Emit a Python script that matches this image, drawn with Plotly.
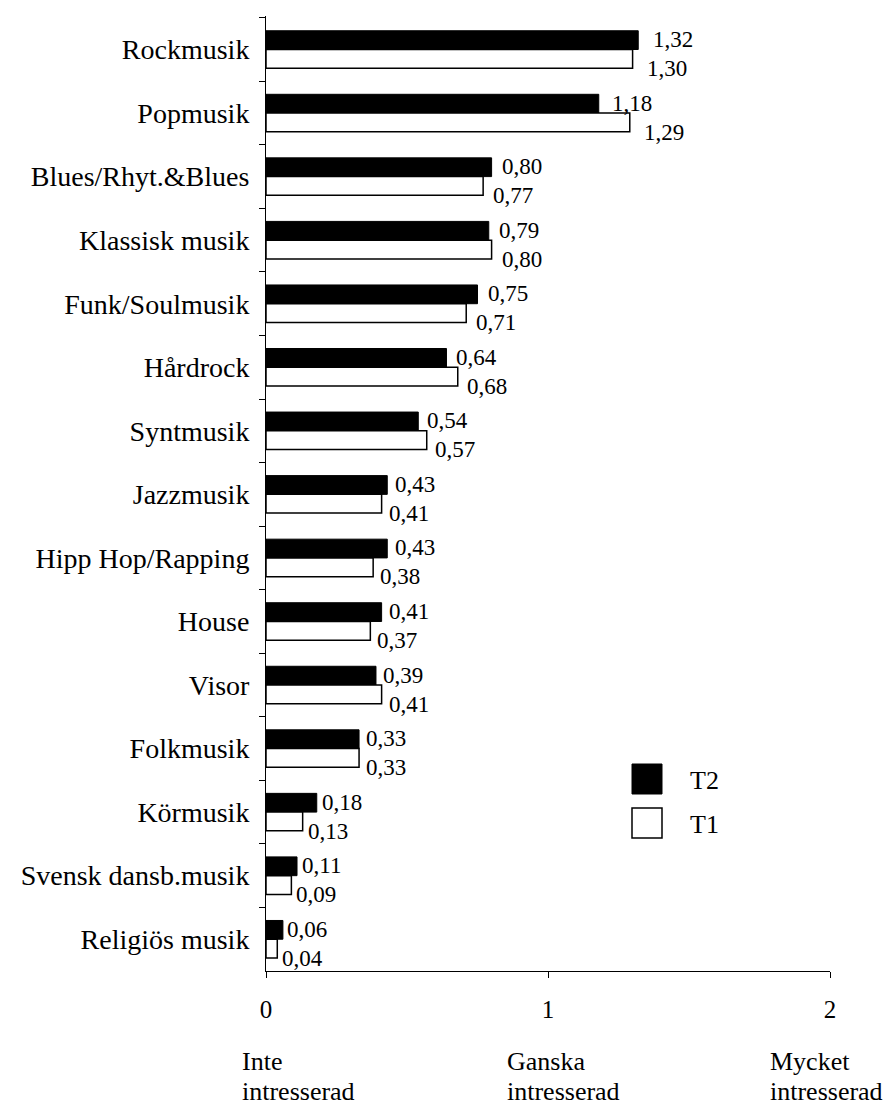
import plotly.graph_objects as go

categories = ["Rockmusik", "Popmusik", "Blues/Rhyt.&Blues", "Klassisk musik",
              "Funk/Soulmusik", "Hårdrock", "Syntmusik", "Jazzmusik",
              "Hipp Hop/Rapping", "House", "Visor", "Folkmusik", "Körmusik",
              "Svensk dansb.musik", "Religiös musik"]
t2 = [1.32, 1.18, 0.80, 0.79, 0.75, 0.64, 0.54, 0.43, 0.43, 0.41, 0.39, 0.33, 0.18, 0.11, 0.06]
t1 = [1.30, 1.29, 0.77, 0.80, 0.71, 0.68, 0.57, 0.41, 0.38, 0.37, 0.41, 0.33, 0.13, 0.09, 0.04]
x_ticks = [0, 1, 2]
scale_top = ["Inte", "Ganska", "Mycket"]
scale_bottom = ["intresserad", "intresserad", "intresserad"]
series_names = ["T2", "T1"]

FONT = "Liberation Serif"

fig = go.Figure()
fig.add_trace(go.Bar(name=series_names[0], y=categories, x=t2, orientation="h",
                     marker=dict(color="black", line=dict(color="black", width=1))))
fig.add_trace(go.Bar(name=series_names[1], y=categories, x=t1, orientation="h",
                     marker=dict(color="white", line=dict(color="black", width=1.5))))

def fmt(v):
    return f"{v:.2f}".replace(".", ",")

annotations = []
for cat, a, b in zip(categories, t2, t1):
    annotations.append(dict(x=a, y=cat, xref="x", yref="y", text=fmt(a), showarrow=False,
                            xanchor="left", yanchor="middle", xshift=2 + 8 * a, yshift=10,
                            font=dict(size=23, family=FONT, color="black")))
    annotations.append(dict(x=b, y=cat, xref="x", yref="y", text=fmt(b), showarrow=False,
                            xanchor="left", yanchor="middle", xshift=2 + 8 * b, yshift=-19,
                            font=dict(size=23, family=FONT, color="black")))

def px2x(p):
    return (p - 266) / 564

def px2y(p):
    return (971 - p) / 955

# bottom scale descriptions
left_px = [240, 505, 768]
for lp, top, bot in zip(left_px, scale_top, scale_bottom):
    annotations.append(dict(x=px2x(lp), y=px2y(1061), xref="paper", yref="paper", text=top,
                            showarrow=False, xanchor="left", yanchor="middle",
                            font=dict(size=26, family=FONT, color="black")))
    annotations.append(dict(x=px2x(lp), y=px2y(1091), xref="paper", yref="paper", text=bot,
                            showarrow=False, xanchor="left", yanchor="middle",
                            font=dict(size=26, family=FONT, color="black")))

# manual legend
shapes = [
    dict(type="rect", xref="paper", yref="paper", x0=px2x(632), x1=px2x(662),
         y0=px2y(794), y1=px2y(764), fillcolor="black", line=dict(color="black", width=1)),
    dict(type="rect", xref="paper", yref="paper", x0=px2x(632), x1=px2x(662),
         y0=px2y(838), y1=px2y(808), fillcolor="white", line=dict(color="black", width=1.5)),
]
annotations.append(dict(x=px2x(688), y=px2y(780), xref="paper", yref="paper", text=series_names[0],
                        showarrow=False, xanchor="left", yanchor="middle",
                        font=dict(size=26, family=FONT, color="black")))
annotations.append(dict(x=px2x(688), y=px2y(824), xref="paper", yref="paper", text=series_names[1],
                        showarrow=False, xanchor="left", yanchor="middle",
                        font=dict(size=26, family=FONT, color="black")))

fig.update_layout(
    width=893, height=1106,
    margin=dict(l=266, r=63, t=16, b=135),
    paper_bgcolor="white", plot_bgcolor="white",
    barmode="group", bargap=0.41, bargroupgap=0,
    showlegend=False,
    font=dict(family=FONT, color="black"),
    annotations=annotations, shapes=shapes,
)
fig.update_xaxes(range=[0, 2], tickvals=x_ticks, ticktext=[str(t) for t in x_ticks],
                 ticks="outside", ticklen=6, tickcolor="black", showline=True,
                 linecolor="black", linewidth=1, showgrid=False, zeroline=False,
                 tickfont=dict(size=25, family=FONT, color="black"), ticklabelstandoff=10)
fig.update_yaxes(type="category", autorange="reversed", ticks="outside", tickson="boundaries",
                 ticklen=6, tickcolor="black", showline=True, linecolor="black", linewidth=1,
                 showgrid=False, zeroline=False, ticklabelstandoff=10,
                 tickfont=dict(size=28, family=FONT, color="black"))

fig.write_html("out.html")
